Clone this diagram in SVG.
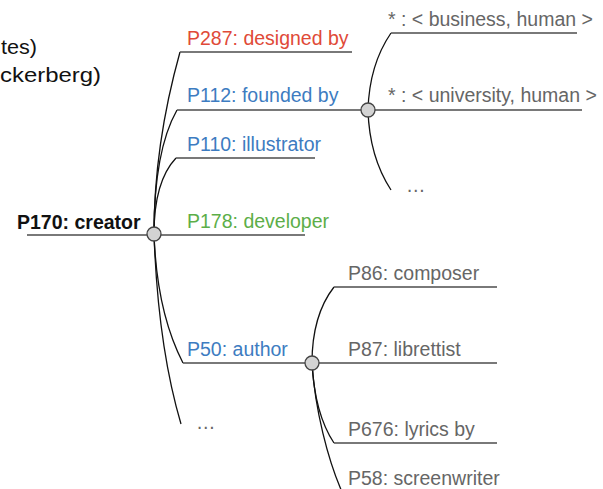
<svg xmlns="http://www.w3.org/2000/svg" width="603" height="489" viewBox="0 0 603 489">
<style>
text{font-family:"Liberation Sans",Arial,sans-serif;font-size:19.5px}
.red{fill:#e04a38}.blue{fill:#3d7cc1}.green{fill:#5cae48}.gray{fill:#666}
.bold{font-weight:bold;fill:#111}
.h{stroke:#4d4d4d;stroke-width:1.6;fill:none}
.c{stroke:#111;stroke-width:1.3;fill:none}
.node{fill:#d3d3d3;stroke:#444;stroke-width:1.3}
.cal{font-family:"Liberation Sans",sans-serif;font-size:21px;fill:#111}
</style>
<text class="cal" x="1" y="54" textLength="36" lengthAdjust="spacingAndGlyphs">tes)</text>
<text class="cal" x="0" y="82" textLength="101" lengthAdjust="spacingAndGlyphs">ckerberg)</text>
<g id="connectors">
<path class="h" d="M27,235 H154"/>
<path class="c" d="M154,234 C154,180 161,120 180,52"/>
<path class="h" d="M180,52 H352"/>
<path class="c" d="M154,234 C154,185 160,140 177,110"/>
<path class="h" d="M177,110 H582"/>
<path class="c" d="M154,234 C154,200 160,175 176,158"/>
<path class="h" d="M176,158 H315"/>
<path class="h" d="M154,235 H305"/>
<path class="c" d="M154,234 C156,290 166,330 183,363"/>
<path class="h" d="M183,363 H497"/>
<path class="c" d="M154,234 C157,320 168,380 181,424"/>
<path class="c" d="M368,110 C369,75 378,52 391,33"/>
<path class="h" d="M391,33 H577"/>
<path class="c" d="M368,110 C369,145 378,170 391,190"/>
<path class="c" d="M312,363 C312,330 320,305 334,287"/>
<path class="h" d="M334,287 H497"/>
<path class="c" d="M312,363 C314,400 322,425 334,443"/>
<path class="h" d="M334,443 H497"/>
<path class="c" d="M312,363 C315,410 328,460 342,492"/>
</g>
<g id="creator">
<circle class="node" cx="154" cy="234" r="7"/>
<text class="bold" x="17" y="229">P170: creator</text>
</g>
<g id="p287"><text class="red" x="187" y="45">P287: designed by</text></g>
<g id="p112"><text class="blue" x="187" y="102">P112: founded by</text></g>
<g id="p112node"><circle class="node" cx="368" cy="110" r="7"/></g>
<g id="business"><text class="gray" x="388" y="26">* : &lt; business, human &gt;</text></g>
<g id="university"><text class="gray" x="388" y="102">* : &lt; university, human &gt;</text></g>
<g id="more1"><text class="gray" x="406" y="192">…</text></g>
<g id="p110"><text class="blue" x="187" y="151">P110: illustrator</text></g>
<g id="p178"><text class="green" x="187" y="228">P178: developer</text></g>
<g id="p50"><text class="blue" x="187" y="356">P50: author</text></g>
<g id="p50node"><circle class="node" cx="312" cy="363" r="7"/></g>
<g id="p86"><text class="gray" x="348" y="280">P86: composer</text></g>
<g id="p87"><text class="gray" x="348" y="356">P87: librettist</text></g>
<g id="p676"><text class="gray" x="348" y="436">P676: lyrics by</text></g>
<g id="p58"><text class="gray" x="348" y="485">P58: screenwriter</text></g>
<g id="more2"><text class="gray" x="196" y="429">…</text></g>
</svg>
